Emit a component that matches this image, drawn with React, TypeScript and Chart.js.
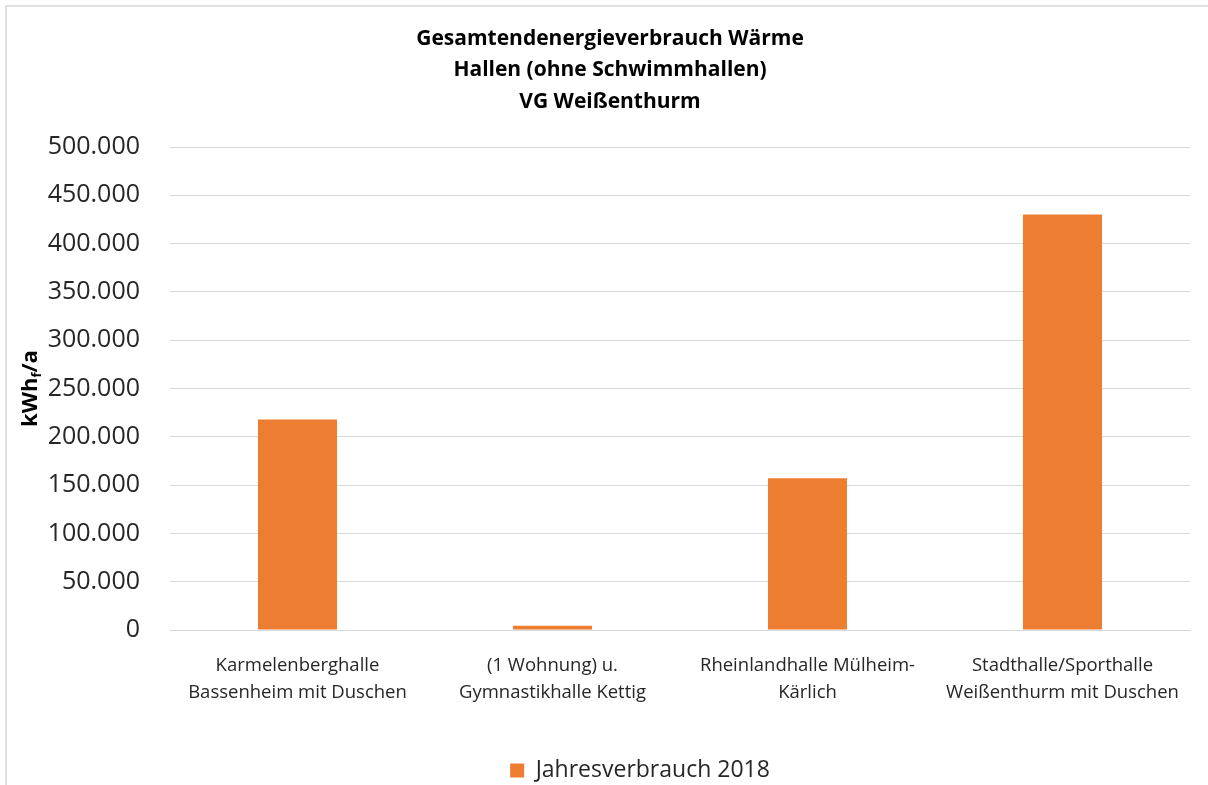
import React, { useEffect, useRef } from "react";
import { Chart, registerables } from "chart.js";

Chart.register(...registerables);

const titleLines = [
  "Gesamtendenergieverbrauch Wärme",
  "Hallen (ohne Schwimmhallen)",
  "VG Weißenthurm",
];
const categories: string[][] = [
  ["Karmelenberghalle", "Bassenheim mit Duschen"],
  ["(1 Wohnung) u.", "Gymnastikhalle Kettig"],
  ["Rheinlandhalle Mülheim-", "Kärlich"],
  ["Stadthalle/Sporthalle", "Weißenthurm mit Duschen"],
];
const seriesLabel = "Jahresverbrauch 2018";
const values = [218000, 4500, 157000, 430000];
const yMax = 500000;
const yStep = 50000;

const FONT = "'Open Sans', 'DejaVu Sans', sans-serif";

const yTitlePlugin = {
  id: "yTitleSub",
  afterLayout(chart: any) {
    if (chart.legend) {
      chart.legend.left += 30;
      chart.legend.right += 30;
    }
  },
  afterDraw(chart: any) {
    const ctx = chart.ctx;
    const area = chart.chartArea;
    ctx.save();
    const cy = (area.top + area.bottom) / 2;
    ctx.translate(29, cy);
    ctx.rotate(-Math.PI / 2);
    ctx.fillStyle = "#000000";
    ctx.textBaseline = "alphabetic";
    const big = `bold 22px ${FONT}`;
    const small = `bold 13px ${FONT}`;
    ctx.font = big;
    const w1 = ctx.measureText("kWh").width;
    const w3 = ctx.measureText("/a").width;
    ctx.font = small;
    const w2 = ctx.measureText("f").width;
    const total = w1 + w2 + w3;
    let x = -total / 2;
    ctx.textAlign = "left";
    ctx.font = big;
    ctx.fillText("kWh", x, 8);
    x += w1;
    ctx.font = small;
    ctx.fillText("f", x, 12);
    x += w2;
    ctx.font = big;
    ctx.fillText("/a", x, 8);
    ctx.restore();
  },
};

export default function App() {
  const ref = useRef<HTMLCanvasElement | null>(null);
  useEffect(() => {
    if (!ref.current) return;
    const chart = new Chart(ref.current, {
      type: "bar",
      data: {
        labels: categories,
        datasets: [
          {
            label: seriesLabel,
            data: values,
            backgroundColor: "#ED7D31",
            borderWidth: 0,
            categoryPercentage: 1,
            barPercentage: 0.31,
          },
        ],
      },
      options: {
        animation: false,
        responsive: false,
        maintainAspectRatio: false,
        layout: { padding: { top: 23, right: 18, bottom: -7, left: 30 } },
        plugins: {
          title: {
            display: true,
            text: titleLines,
            color: "#000000",
            font: { family: FONT, size: 21, weight: "bold", lineHeight: 1.5 },
            padding: { top: 0, bottom: 29.5 },
          },
          legend: {
            position: "bottom",
            labels: {
              color: "#262626",
              font: { family: FONT, size: 23 },
              boxWidth: 14,
              boxHeight: 14,
              padding: 5,
            },
          },
          tooltip: { enabled: false },
        },
        scales: {
          x: {
            grid: { display: false },
            border: { display: true, color: "#d9d9d9", width: 1 },
            ticks: {
              color: "#262626",
              font: { family: FONT, size: 18.5, lineHeight: 1.46 },
              maxRotation: 0,
              autoSkip: false,
              padding: 14,
            },
            afterFit: (s: any) => {
              s.height = 124;
            },
          },
          y: {
            min: 0,
            max: yMax,
            grid: { color: "#d9d9d9", lineWidth: 1, drawTicks: false },
            border: { display: false },
            ticks: {
              stepSize: yStep,
              color: "#262626",
              font: { family: FONT, size: 25 },
              padding: 30,
              callback: (v: any) => Number(v).toLocaleString("de-DE"),
            },
            afterFit: (s: any) => {
              s.width = 140;
            },
          },
        },
      },
      plugins: [yTitlePlugin],
    });
    return () => chart.destroy();
  }, []);
  return (
    <div
      style={{
        position: "fixed",
        left: 0,
        top: 0,
        width: 1208,
        height: 785,
        background: "#ffffff",
        overflow: "hidden",
      }}
    >
      <canvas ref={ref} width={1208} height={785} style={{ display: "block" }} />
      <div
        style={{
          position: "absolute",
          left: 5,
          top: 5,
          width: 1220,
          height: 800,
          borderLeft: "2px solid #e0e0e0",
          borderTop: "2px solid #e0e0e0",
          pointerEvents: "none",
        }}
      />
    </div>
  );
}
